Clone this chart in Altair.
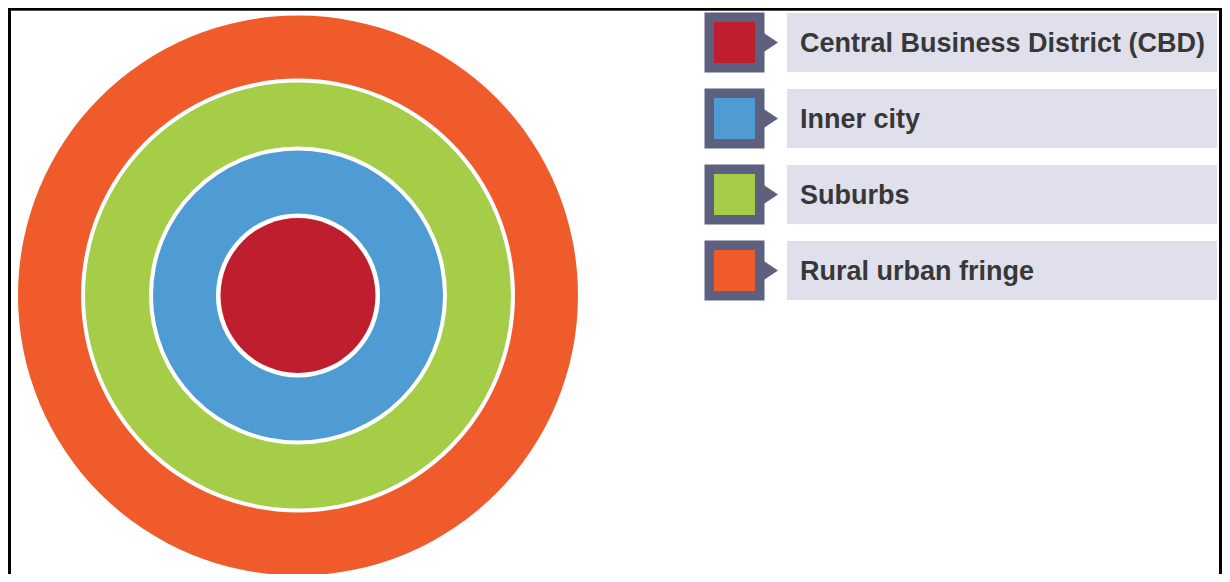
import altair as alt
import pandas as pd

# ---- data ----
zones = ["Central Business District (CBD)", "Inner city", "Suburbs", "Rural urban fringe"]
zone_colors = ["#BE1E2D", "#4F9BD3", "#A5CD48", "#EF5B2B"]
inner_radius = [0, 82, 149, 217]
outer_radius = [77.5, 145, 213, 280]

df = pd.DataFrame({"zone": zones, "inner": inner_radius, "outer": outer_radius})

W, H = 1214, 566

color = alt.Color("zone:N", scale=alt.Scale(domain=zones, range=zone_colors), legend=None)
yscale = alt.Scale(type="band", domain=zones, range=[5, 292], paddingInner=17 / 76, paddingOuter=0)
Y = alt.Y("zone:N", sort=zones, scale=yscale, axis=None)

base = alt.Chart(df)

rings = base.mark_arc(theta=0, theta2=6.2832, stroke=None).encode(
    x=alt.value(290),
    y=alt.value(287.5),
    radius=alt.Radius("outer:Q", scale=alt.Scale(type="linear", domain=[0, 280], range=[0, 280], zero=True)),
    radius2="inner:Q",
    color=color,
)

panels = base.mark_rect(color="#E0E0EC").encode(
    y=Y, x=alt.value(779), x2=alt.value(1209)
)

boxes = base.mark_square(size=3600, color="#5E607F", opacity=1, strokeWidth=0, filled=True).encode(
    y=Y, x=alt.value(726.5)
)

arrows = base.mark_point(shape="M 0 -1 L 1.5 0 L 0 1 Z", size=400, filled=True,
                         color="#5E607F", opacity=1, strokeWidth=0).encode(
    y=Y, x=alt.value(755)
)

swatches = base.mark_square(size=1681, opacity=1, strokeWidth=0, filled=True).encode(
    y=Y, x=alt.value(726.5), color=color
)

labels = base.mark_text(align="left", baseline="middle", font="Liberation Sans",
                        fontWeight="bold", fontSize=27, color="#383838", dy=1).encode(
    y=Y, x=alt.value(792), text="zone:N"
)

border_left = base.mark_rule(color="black", strokeWidth=2.5).encode(
    x=alt.value(1.5), y=alt.value(0), y2=alt.value(H)
)
border_top = base.mark_rule(color="black", strokeWidth=2.5).encode(
    x=alt.value(0), x2=alt.value(1213), y=alt.value(1)
)
border_right = base.mark_rule(color="black", strokeWidth=2.5).encode(
    x=alt.value(1212.5), y=alt.value(0), y2=alt.value(H)
)

chart = alt.layer(
    rings, panels, boxes, arrows, swatches, labels, border_left, border_top, border_right
).properties(
    width=W, height=H, padding=0, autosize=alt.AutoSizeParams(type="none"), background="white"
).configure_view(stroke=None)

chart.save("out.html", embed_options={"renderer": "svg", "actions": False})
